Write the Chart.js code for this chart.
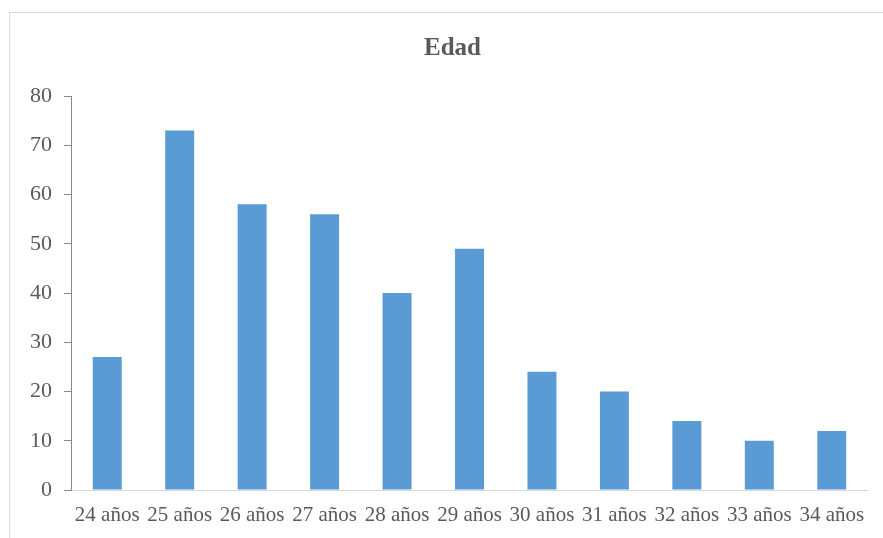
<!DOCTYPE html>
<html>
<head>
<meta charset="utf-8">
<script src="https://cdn.jsdelivr.net/npm/chart.js@4/dist/chart.umd.min.js"></script>
<style>
  html, body { margin: 0; padding: 0; background: #ffffff; overflow: hidden; }
  #frame { position: absolute; left: 9px; top: 12px; width: 887px; height: 560px; border: 1px solid #d9d9d9; box-sizing: border-box; }
  #c { position: absolute; left: 0; top: 0; }
</style>
</head>
<body>
<div id="frame"></div>
<canvas id="c" width="883" height="538"></canvas>
<script>
const categories = ["24 años", "25 años", "26 años", "27 años", "28 años", "29 años", "30 años", "31 años", "32 años", "33 años", "34 años"];
const values = [27, 73, 58, 56, 40, 49, 24, 20, 14, 10, 12];
const chartTitle = "Edad";
const yMin = 0, yMax = 80, yStep = 10;

const serif = "'Liberation Serif', 'Times New Roman', serif";
const textColor = "#595959";

// Title centred on the outer chart frame (frame spans x 9..896)
const frameTitle = {
  id: 'frameTitle',
  afterDraw(chart) {
    const ctx = chart.ctx;
    const frame = document.getElementById('frame');
    const cx = frame.offsetLeft + frame.offsetWidth / 2;
    ctx.save();
    ctx.font = "bold 25px " + serif;
    ctx.fillStyle = textColor;
    ctx.textAlign = 'center';
    ctx.textBaseline = 'middle';
    ctx.fillText(chartTitle, cx, 49);
    ctx.restore();
  }
};

new Chart(document.getElementById('c'), {
  type: 'bar',
  data: {
    labels: categories,
    datasets: [{
      data: values,
      backgroundColor: '#5b9bd5',
      borderWidth: 0,
      barPercentage: 0.4,
      categoryPercentage: 1.0
    }]
  },
  options: {
    responsive: false,
    animation: false,
    devicePixelRatio: 1,
    layout: { padding: { left: 22, right: 15, top: 96, bottom: 0 } },
    plugins: {
      legend: { display: false },
      tooltip: { enabled: false },
      title: { display: false }
    },
    scales: {
      x: {
        grid: { display: false, drawTicks: false, tickLength: 0 },
        border: { display: true, color: '#d9d9d9', width: 1 },
        ticks: { color: textColor, font: { family: serif, size: 21 }, padding: 13, maxRotation: 0, autoSkip: false },
        afterFit: (s) => { s.height = 48; }
      },
      y: {
        min: yMin, max: yMax,
        grid: { display: true, drawOnChartArea: false, drawTicks: true, tickLength: 7, color: '#898989' },
        border: { display: true, color: '#898989', width: 1 },
        ticks: { stepSize: yStep, color: textColor, font: { family: serif, size: 22 }, padding: 12 },
        afterFit: (s) => { s.width = 49; }
      }
    }
  },
  plugins: [frameTitle]
});
</script>
</body>
</html>
